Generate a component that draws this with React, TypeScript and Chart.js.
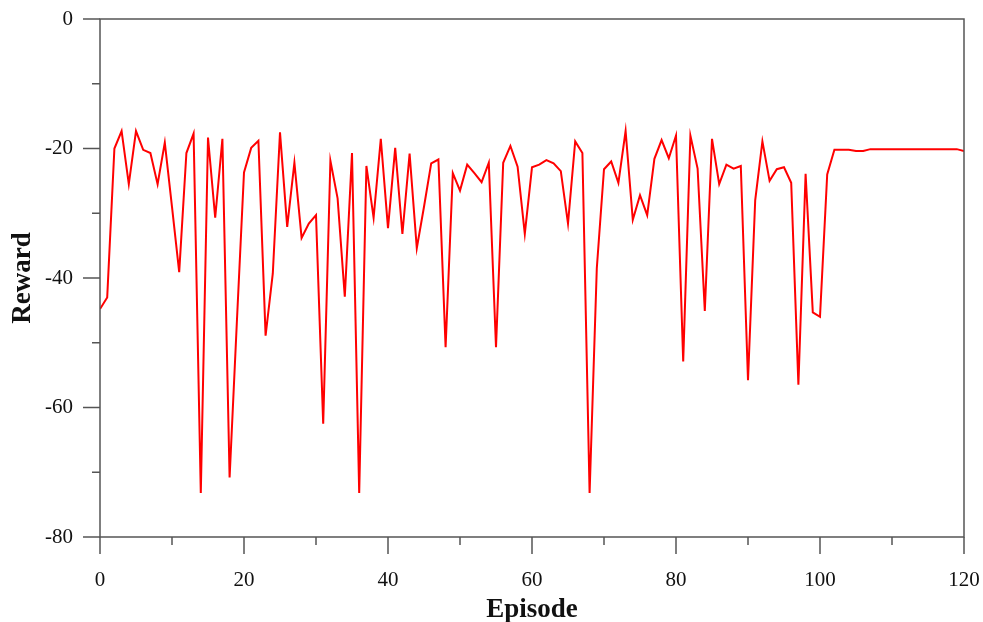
import React, { useEffect, useRef } from "react";
import { Chart, registerables } from "chart.js";

Chart.register(...registerables);

const episodes: number[] = Array.from({ length: 121 }, (_, i) => i);

const rewards: number[] = [
  -44.8, -43.0, -20.0, -17.3, -25.5, -17.3, -20.2, -20.7, -25.5, -19.1,
  -29.0, -39.1, -20.7, -17.7, -73.2, -18.3, -30.7, -18.5, -70.8, -47.0,
  -23.7, -19.9, -18.8, -48.9, -39.3, -17.5, -32.1, -22.2, -33.8, -31.6,
  -30.3, -62.5, -21.9, -27.7, -42.9, -20.7, -73.2, -22.7, -30.7, -18.5,
  -32.3, -19.9, -33.2, -20.8, -35.4, -29.0, -22.3, -21.7, -50.7, -23.8,
  -26.5, -22.5, -23.8, -25.2, -22.2, -50.7, -22.2, -19.6, -22.8, -33.2,
  -22.9, -22.5, -21.8, -22.3, -23.5, -31.6, -18.9, -20.7, -73.2, -38.5,
  -23.2, -22.0, -25.3, -17.3, -31.0, -27.2, -30.3, -21.6, -18.7, -21.5,
  -18.0, -52.9, -18.0, -23.1, -45.1, -18.5, -25.5, -22.5, -23.1, -22.7,
  -55.8, -28.0, -18.9, -25.0, -23.2, -22.9, -25.3, -56.5, -23.9, -45.3,
  -46.0, -24.0, -20.2, -20.2, -20.2, -20.4, -20.4, -20.1, -20.1, -20.1,
  -20.1, -20.1, -20.1, -20.1, -20.1, -20.1, -20.1, -20.1, -20.1, -20.1,
  -20.4,
];

const xMajorTicks: number[] = [0, 20, 40, 60, 80, 100, 120];
const xMinorTicks: number[] = [10, 30, 50, 70, 90, 110];
const yMajorTicks: number[] = [0, -20, -40, -60, -80];
const yMinorTicks: number[] = [-10, -30, -50, -70];

const AXIS_COLOR = "#555555";
const SERIF = "'Liberation Serif', 'Times New Roman', serif";

const framePlugin = {
  id: "frameTicks",
  afterDraw(chart: any) {
    const { ctx, chartArea, scales } = chart;
    const x = scales.x;
    const y = scales.y;
    ctx.save();
    ctx.strokeStyle = AXIS_COLOR;
    ctx.lineWidth = 1.5;
    ctx.strokeRect(
      chartArea.left,
      chartArea.top,
      chartArea.right - chartArea.left,
      chartArea.bottom - chartArea.top
    );
    ctx.beginPath();
    xMajorTicks.forEach((v) => {
      const px = x.getPixelForValue(v);
      ctx.moveTo(px, chartArea.bottom);
      ctx.lineTo(px, chartArea.bottom + 17);
    });
    xMinorTicks.forEach((v) => {
      const px = x.getPixelForValue(v);
      ctx.moveTo(px, chartArea.bottom);
      ctx.lineTo(px, chartArea.bottom + 8);
    });
    yMajorTicks.forEach((v) => {
      const py = y.getPixelForValue(v);
      ctx.moveTo(chartArea.left, py);
      ctx.lineTo(chartArea.left - 17, py);
    });
    yMinorTicks.forEach((v) => {
      const py = y.getPixelForValue(v);
      ctx.moveTo(chartArea.left, py);
      ctx.lineTo(chartArea.left - 8, py);
    });
    ctx.stroke();
    ctx.restore();
  },
};

export default function App() {
  const canvasRef = useRef<HTMLCanvasElement | null>(null);

  useEffect(() => {
    if (!canvasRef.current) return;
    const chart = new Chart(canvasRef.current, {
      type: "line",
      data: {
        datasets: [
          {
            label: "Reward",
            data: episodes.map((e, i) => ({ x: e, y: rewards[i] })),
            borderColor: "#ff0000",
            backgroundColor: "#ff0000",
            borderWidth: 2,
            pointRadius: 0,
            tension: 0,
            fill: false,
          },
        ],
      },
      options: {
        animation: false,
        responsive: false,
        layout: { padding: { top: 19, right: 19, left: 0, bottom: 0 } },
        plugins: {
          legend: { display: false },
          tooltip: { enabled: false },
        },
        scales: {
          x: {
            type: "linear",
            min: 0,
            max: 120,
            afterFit: (s: any) => {
              s.height = 85;
              s.paddingLeft = 0;
              s.paddingRight = 0;
            },
            afterBuildTicks: (s: any) => {
              s.ticks = xMajorTicks.map((v) => ({ value: v }));
            },
            grid: { display: false, drawTicks: true, tickLength: 17 },
            border: { display: false },
            ticks: {
              color: "#111111",
              padding: 14,
              maxRotation: 0,
              font: { family: SERIF, size: 21 },
            },
            title: {
              display: true,
              text: "Episode",
              color: "#111111",
              padding: { top: 0, bottom: 0 },
              font: { family: SERIF, size: 27, weight: "bold", lineHeight: 0.85 },
            },
          },
          y: {
            type: "linear",
            min: -80,
            max: 0,
            afterFit: (s: any) => {
              s.width = 100;
              s.paddingTop = 0;
              s.paddingBottom = 0;
            },
            afterBuildTicks: (s: any) => {
              s.ticks = yMajorTicks.map((v) => ({ value: v }));
            },
            grid: { display: false, drawTicks: true, tickLength: 17 },
            border: { display: false },
            ticks: {
              color: "#111111",
              padding: 10,
              font: { family: SERIF, size: 21 },
            },
            title: {
              display: true,
              text: "Reward",
              color: "#111111",
              padding: { top: 7, bottom: 0 },
              font: { family: SERIF, size: 27, weight: "bold" },
            },
          },
        },
      },
      plugins: [framePlugin],
    });
    return () => chart.destroy();
  }, []);

  return (
    <div
      style={{
        position: "fixed",
        left: 0,
        top: 0,
        width: 983,
        height: 622,
        background: "#ffffff",
      }}
    >
      <canvas ref={canvasRef} width={983} height={622} style={{ display: "block" }} />
    </div>
  );
}
